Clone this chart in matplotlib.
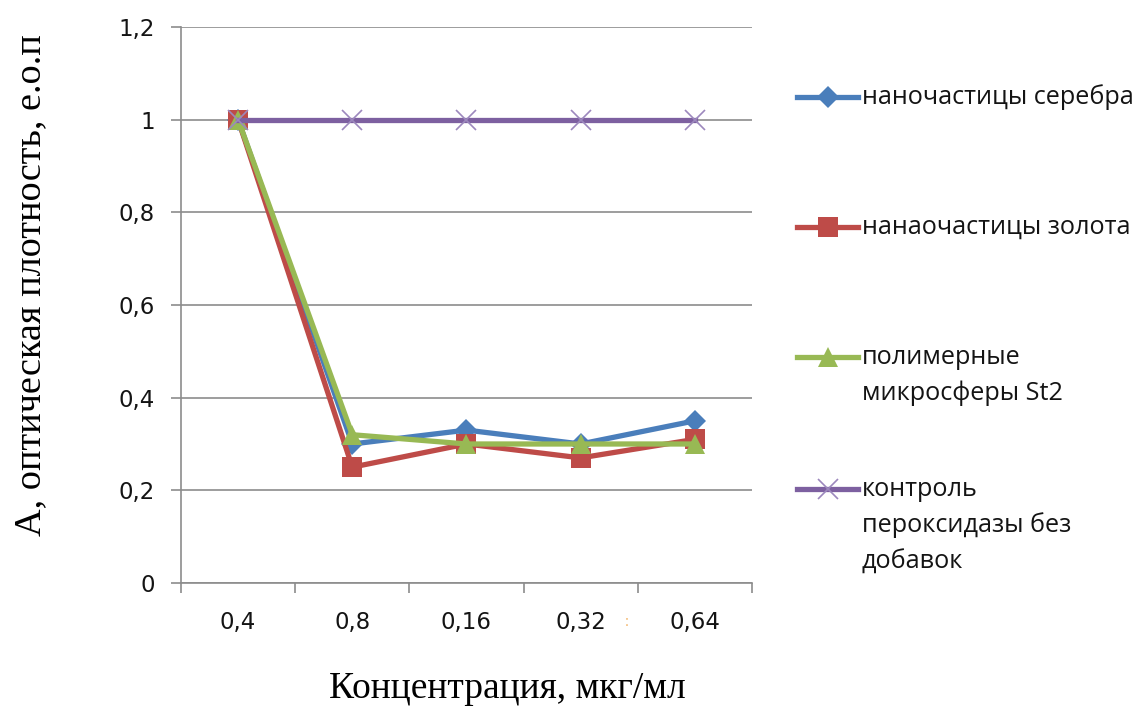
import matplotlib
matplotlib.use("Agg")
import matplotlib.pyplot as plt
from matplotlib.lines import Line2D

# Data
concentrations = ["0,4", "0,8", "0,16", "0,32", "0,64"]
silver = [1.00, 0.30, 0.33, 0.30, 0.35]
gold = [1.00, 0.25, 0.30, 0.27, 0.31]
microspheres = [1.00, 0.32, 0.30, 0.30, 0.30]
control = [1.00, 1.00, 1.00, 1.00, 1.00]

series_labels = [
    "наночастицы серебра",
    "нанаочастицы золота",
    "полимерные\nмикросферы St2",
    "контроль\nпероксидазы без\nдобавок",
]
y_ticks = [0, 0.2, 0.4, 0.6, 0.8, 1.0, 1.2]
y_tick_labels = ["0", "0,2", "0,4", "0,6", "0,8", "1", "1,2"]

# Styles
colors = ["#4A7EBB", "#BE4B48", "#98B954", "#7D60A0"]
markers = ["D", "s", "^", "x"]
msizes = [11, 14, 14, 15]
grid_color = "#8C8C8C"
text_color = "#141414"
sans = ["Open Sans", "DejaVu Sans"]
tick_font = ["DejaVu Sans"]
serif = ["Liberation Serif", "DejaVu Serif"]
tick_fs = 16.5
legend_fs = 18.2

fig = plt.figure(figsize=(11.40, 7.07), dpi=100)
ax = fig.add_axes([0.1588, 0.1754, 0.5008, 0.7864])

x = list(range(len(concentrations)))
all_series = [silver, gold, microspheres, control]


def marker_style(m):
    if m == "x":
        return dict(markeredgewidth=1.2, markeredgecolor="#9C88BD")
    return dict(markeredgewidth=0)


for vals, c, m, ms in zip(all_series, colors, markers, msizes):
    ax.plot(x, vals, color=c, lw=3.8, marker=m, ms=ms, zorder=3,
            **marker_style(m))

ax.set_xlim(-0.5, len(concentrations) - 0.5)
ax.set_ylim(0, 1.2)

ax.set_yticks(y_ticks)
ax.set_yticklabels(y_tick_labels, fontfamily=tick_font, fontsize=tick_fs,
                   color=text_color)
ax.yaxis.grid(True, color=grid_color, lw=1.2)
ax.set_axisbelow(True)

# category boundaries carry the tick marks, labels sit between them
ax.set_xticks([i - 0.5 for i in range(len(concentrations) + 1)])
ax.set_xticklabels([])
ax.set_xticks(x, minor=True)
ax.set_xticklabels(concentrations, minor=True, fontfamily=tick_font,
                   fontsize=tick_fs, color=text_color)
ax.tick_params(axis="x", which="minor", length=0, pad=20)
ax.tick_params(axis="x", which="major", length=7, width=1.2, color=grid_color)
ax.tick_params(axis="y", length=7, width=1.2, color=grid_color, pad=12)

for side in ["top", "right"]:
    ax.spines[side].set_visible(False)
for side in ["left", "bottom"]:
    ax.spines[side].set_color(grid_color)
    ax.spines[side].set_linewidth(1.2)

fig.text(0.027, 0.597, "А, оптическая плотность, е.о.п", rotation=90,
         ha="center", va="center", fontfamily=serif, fontsize=27.5)
fig.text(0.4447, 0.0255, "Концентрация, мкг/мл", ha="center", va="center",
         fontfamily=serif, fontsize=27)

# small stray mark beside the 0,32 label
fig.text(627 / 1140, 1 - 623 / 707, ":", ha="center", va="center",
         fontfamily=sans, fontsize=11, color="#F2B366")

# legend entries drawn at the right of the plot
legend_y = [97, 227, 357, 489]
for lbl, c, m, ms, ypx in zip(series_labels, colors, markers, msizes, legend_y):
    yf = 1 - ypx / 707
    fig.add_artist(Line2D([797 / 1140, 858 / 1140], [yf, yf], color=c, lw=3.8,
                          transform=fig.transFigure))
    fig.add_artist(Line2D([827.5 / 1140], [yf], color=c, marker=m, ms=ms,
                          transform=fig.transFigure, **marker_style(m)))
    for k, line in enumerate(lbl.split("\n")):
        fig.text(862 / 1140, 1 - (ypx + k * 36.5) / 707, line, ha="left",
                 va="center", fontfamily=sans, fontsize=legend_fs,
                 color=text_color)

fig.savefig("out.png", dpi=100)
